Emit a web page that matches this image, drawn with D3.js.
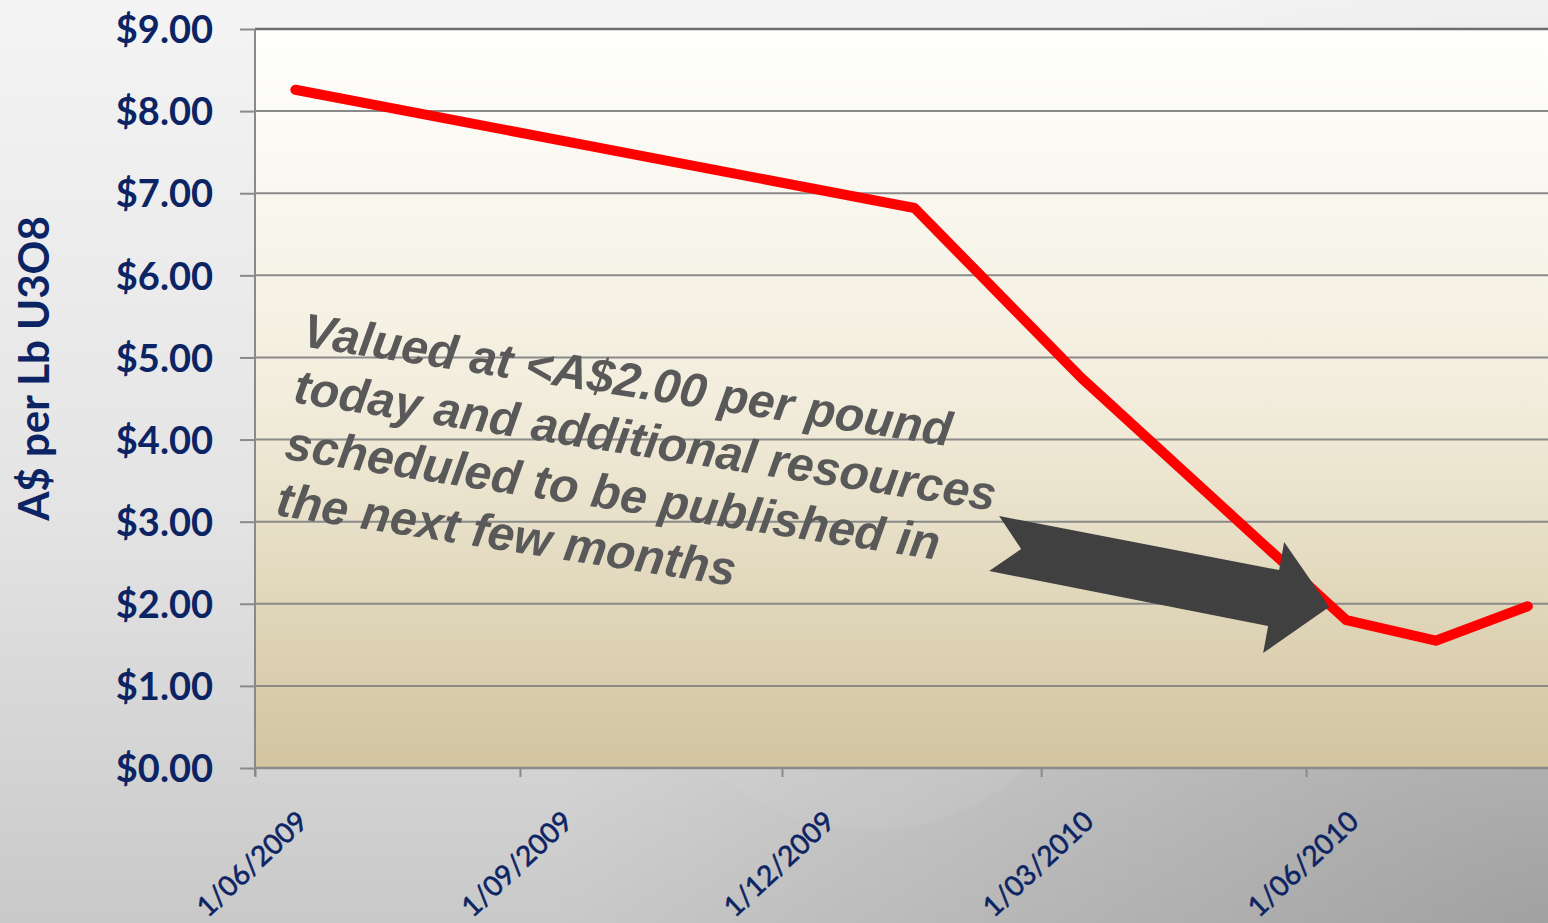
<!DOCTYPE html>
<html>
<head>
<meta charset="utf-8">
<script src="https://cdn.jsdelivr.net/npm/d3@7/dist/d3.min.js"></script>
<style>
  html, body { margin: 0; padding: 0; overflow: hidden; }
  svg { display: block; }
</style>
</head>
<body>
<svg id="chart" width="1548" height="923"></svg>
<script>
// ---- data ----
const dates = ["15/06/2009", "16/01/2010", "15/03/2010", "15/06/2010", "16/07/2010", "17/08/2010"];
const prices = [8.26, 6.82, 4.75, 1.80, 1.55, 1.97];
const yTicks = [0, 1, 2, 3, 4, 5, 6, 7, 8, 9];
const xTickLabels = ["1/06/2009", "1/09/2009", "1/12/2009", "1/03/2010", "1/06/2010"];
const yTitle = "A$ per Lb U3O8";
const noteLines = [
  "Valued at <A$2.00 per pound",
  "today and additional resources",
  "scheduled to be published in",
  "the next few months"
];
const arrowTip = { date: "09/06/2010", value: 1.96 };

// ---- setup ----
const W = 1548, H = 923;
const parse = d3.timeParse("%d/%m/%Y");
const svg = d3.select("#chart");
const defs = svg.append("defs");

const x = d3.scaleTime()
  .domain([parse("1/06/2009"), parse("24/08/2010")])
  .range([255, 1548]);
const y = d3.scaleLinear().domain([0, 9]).range([768, 29]);

// background gradients
const bg = defs.append("linearGradient").attr("id", "bg").attr("x1", 0).attr("y1", 0).attr("x2", 0).attr("y2", 1);
bg.append("stop").attr("offset", "0%").attr("stop-color", "#f4f4f4");
bg.append("stop").attr("offset", "55%").attr("stop-color", "#e4e4e4");
bg.append("stop").attr("offset", "100%").attr("stop-color", "#c9c9c9");

const shade = defs.append("radialGradient").attr("id", "shade")
  .attr("gradientUnits", "userSpaceOnUse")
  .attr("cx", 1548).attr("cy", 923).attr("r", 1000);
shade.append("stop").attr("offset", "0%").attr("stop-color", "#000").attr("stop-opacity", 0.2);
shade.append("stop").attr("offset", "100%").attr("stop-color", "#000").attr("stop-opacity", 0);

const plotGrad = defs.append("linearGradient").attr("id", "plotGrad").attr("x1", 0).attr("y1", 0).attr("x2", 0).attr("y2", 1);
plotGrad.append("stop").attr("offset", "0%").attr("stop-color", "#fffffe");
plotGrad.append("stop").attr("offset", "50%").attr("stop-color", "#f2eddc");
plotGrad.append("stop").attr("offset", "100%").attr("stop-color", "#d2c49f");

svg.append("rect").attr("width", W).attr("height", H).attr("fill", "url(#bg)");
svg.append("rect").attr("width", W).attr("height", H).attr("fill", "url(#shade)");
// faint decorative disc behind the chart
svg.append("circle").attr("cx", 870).attr("cy", 600).attr("r", 230)
  .attr("fill", "#ffffff").attr("opacity", 0.05);

// plot area
svg.append("rect")
  .attr("x", x.range()[0]).attr("y", y(9))
  .attr("width", x.range()[1] - x.range()[0]).attr("height", y(0) - y(9))
  .attr("fill", "url(#plotGrad)");

// gridlines
svg.append("g").selectAll("line").data(yTicks.filter(d => d > 0)).join("line")
  .attr("x1", x.range()[0]).attr("x2", x.range()[1])
  .attr("y1", d => y(d)).attr("y2", d => y(d))
  .attr("stroke", d => d === 9 ? "#6e6e6e" : "#8a8a8a")
  .attr("stroke-width", d => d === 9 ? 2.5 : 2);

// y axis
const yAxis = d3.axisLeft(y).tickValues(yTicks).tickSize(15).tickPadding(27)
  .tickFormat(d => "$" + d3.format(".2f")(d));
const gy = svg.append("g").attr("transform", `translate(${x.range()[0]},0)`).call(yAxis);
gy.select(".domain").attr("stroke", "#8a8a8a").attr("stroke-width", 2)
  .attr("d", `M0,${y(9)}V${y(0) + 8}`);
gy.selectAll(".tick line").attr("stroke", "#8a8a8a").attr("stroke-width", 2);
gy.selectAll(".tick text")
  .attr("fill", "#0c2463")
  .attr("font-family", "Lato, 'Open Sans', sans-serif")
  .attr("font-weight", "bold")
  .attr("font-size", 38)
  .attr("dy", "0.36em");

// x axis
const xTickDates = xTickLabels.map(parse);
const xAxis = d3.axisBottom(x).tickValues(xTickDates).tickSize(9).tickFormat("");
const gx = svg.append("g").attr("transform", `translate(0,${y(0)})`).call(xAxis);
gx.select(".domain").attr("stroke", "#8a8a8a").attr("stroke-width", 2.5)
  .attr("d", `M${x.range()[0]},0H${x.range()[1]}`);
gx.selectAll(".tick line").attr("stroke", "#8a8a8a").attr("stroke-width", 2);

svg.append("g").selectAll("text").data(xTickLabels).join("text")
  .attr("transform", d => `translate(${x(parse(d)) - 4},${y(0) + 95}) rotate(-43)`)
  .attr("text-anchor", "middle")
  .attr("dominant-baseline", "central")
  .attr("fill", "#0c2463")
  .attr("stroke", "#0c2463")
  .attr("stroke-width", 0.6)
  .attr("font-family", "Lato, 'Open Sans', sans-serif")
  .attr("font-size", 28)
  .text(d => d);

// y title
svg.append("text")
  .attr("transform", `translate(33,${(y(0) + y(9)) / 2 - 30}) rotate(-90)`)
  .attr("text-anchor", "middle")
  .attr("dominant-baseline", "central")
  .attr("fill", "#0c2463")
  .attr("font-family", "Lato, 'Open Sans', sans-serif")
  .attr("font-weight", "bold")
  .attr("font-size", 42)
  .text(yTitle);

// data line
const pts = dates.map((d, i) => ({ date: parse(d), value: prices[i] }));
const line = d3.line().x(d => x(d.date)).y(d => y(d.value));
svg.append("path").datum(pts)
  .attr("d", line)
  .attr("fill", "none")
  .attr("stroke", "#ff0000")
  .attr("stroke-width", 10)
  .attr("stroke-linejoin", "round")
  .attr("stroke-linecap", "round");

// annotation text
const note = svg.append("g")
  .attr("transform", "translate(301,346) rotate(8.8)");
note.selectAll("text").data(noteLines).join("text")
  .attr("x", 0)
  .attr("y", (d, i) => i * 57)
  .attr("fill", "#595959")
  .attr("font-family", "'Liberation Sans', Arial, sans-serif")
  .attr("font-weight", "bold")
  .attr("font-style", "italic")
  .attr("font-size", 48)
  .text(d => d);

// block arrow (shape relative to its tip, which is placed via the scales)
const tx = x(parse(arrowTip.date)), ty = y(arrowTip.value);
const arrowShape = [[-330, -91], [-308, -58], [-340, -36], [-61, 19], [-66, 46], [0, 0], [-45, -65], [-50, -37]];
svg.append("polygon")
  .attr("points", arrowShape.map(p => [tx + p[0], ty + p[1]].join(",")).join(" "))
  .attr("fill", "#404040");
</script>
</body>
</html>
